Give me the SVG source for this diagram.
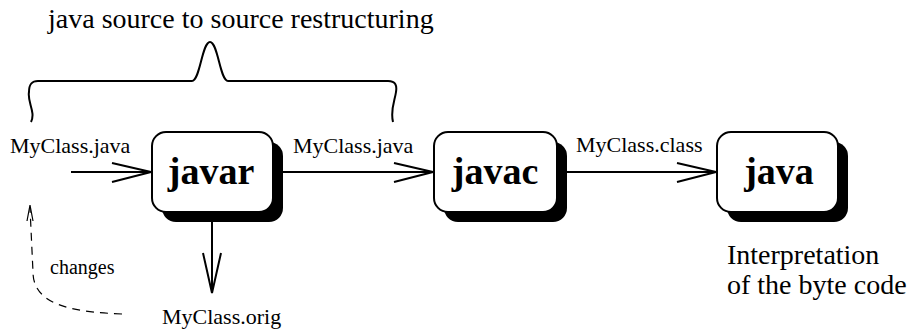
<svg xmlns="http://www.w3.org/2000/svg" width="917" height="335" viewBox="0 0 917 335">
<style>
.lbl{font-family:"Liberation Serif","Times New Roman",serif;font-size:22px;fill:#000}
.big{font-family:"Liberation Serif","Times New Roman",serif;font-size:28px;fill:#000}
.node{font-family:"Liberation Serif","Times New Roman",serif;font-size:38px;font-weight:bold;fill:#000;text-anchor:middle}
.box{fill:#fff;stroke:#000;stroke-width:2}
.shadow{fill:#000}
.ln{stroke:#000;stroke-width:2;fill:none}
.dash{stroke:#000;stroke-width:1.2;fill:none;stroke-dasharray:8 6}
</style>
<rect width="917" height="335" fill="#fff"/>
<text class="big" x="48" y="28">java source to source restructuring</text>
<path class="ln" d="M31,122 C36,112 27,102 29,92 C29,85 31,81 38,81 L192,81 C200,81 202,42 210,42 C218,42 220,81 228,81 L388,81 C396,81 397,86 396,92 C395,100 390,110 393,122"/>
<g id="javar">
<rect class="shadow" x="162" y="142" width="121" height="80" rx="14"/>
<rect class="box" x="152" y="132" width="121" height="80" rx="14"/>
<text class="node" x="211" y="184">javar</text>
</g>
<g id="javac">
<rect class="shadow" x="444" y="142" width="123" height="80" rx="14"/>
<rect class="box" x="434" y="132" width="123" height="80" rx="14"/>
<text class="node" x="495" y="184">javac</text>
</g>
<g id="java">
<rect class="shadow" x="727" y="142" width="121" height="80" rx="14"/>
<rect class="box" x="717" y="132" width="121" height="80" rx="14"/>
<text class="node" x="779" y="184">java</text>
</g>
<g id="connectors">
<path class="ln" d="M71,172 H151 M112,163 L151,172 L112,182"/>
<path class="ln" d="M283,172 H433 M394,163 L433,172 L394,182"/>
<path class="ln" d="M567,172 H716 M677,163 L716,172 L677,182"/>
<path class="ln" d="M212,222 V293 M203,253 L212,293 L221,253"/>
<path class="dash" d="M122,314 C75,312 33,306 33,272 L30,208"/>
<path class="ln" style="stroke-width:1.2" d="M27,221 L30,205 L33,221"/>
</g>
<text class="lbl" x="10" y="153">MyClass.java</text>
<text class="lbl" x="293" y="153">MyClass.java</text>
<text class="lbl" x="576" y="152">MyClass.class</text>
<text class="lbl" x="162" y="324">MyClass.orig</text>
<text class="lbl" x="50" y="274" style="font-size:20px">changes</text>
<text class="big" x="727" y="264">Interpretation</text>
<text class="big" x="727" y="294">of the byte code</text>
</svg>
